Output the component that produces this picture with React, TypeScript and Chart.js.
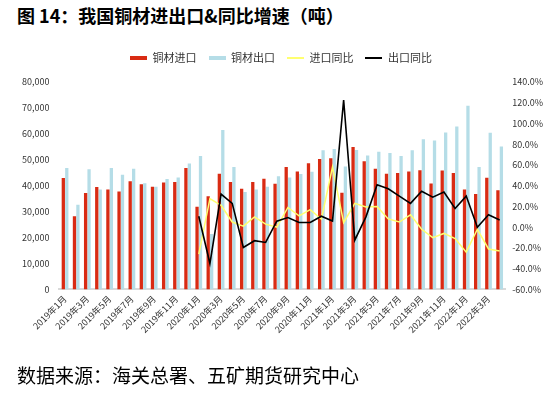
import React, { useEffect, useRef } from "react";
import { Chart, registerables } from "chart.js";

Chart.register(...registerables);

const months: string[] = [
  "2019年1月","2019年2月","2019年3月","2019年4月","2019年5月","2019年6月","2019年7月","2019年8月","2019年9月","2019年10月","2019年11月","2019年12月",
  "2020年1月","2020年2月","2020年3月","2020年4月","2020年5月","2020年6月","2020年7月","2020年8月","2020年9月","2020年10月","2020年11月","2020年12月",
  "2021年1月","2021年2月","2021年3月","2021年4月","2021年5月","2021年6月","2021年7月","2021年8月","2021年9月","2021年10月","2021年11月","2021年12月",
  "2022年1月","2022年2月","2022年3月","2022年4月",
];

const copperImports: number[] = [
  43000, 28200, 37200, 39500, 38500, 37800, 41700, 40600, 39600, 41200, 41400, 46800,
  31900, 35900, 44600, 41400, 38800, 41400, 42700, 40800, 47200, 45500, 48700, 50300,
  50600, 37300, 54900, 49400, 46500, 44600, 44900, 45500, 46000, 40900, 45900, 44900,
  38500, 36800, 43100, 38300,
];

const copperExports: number[] = [
  46800, 32700, 46400, 38500, 46800, 44200, 46500, 41000, 39600, 42600, 43200, 48600,
  51500, 21400, 61500, 47200, 37600, 38500, 39600, 43700, 43200, 44500, 45400, 53700,
  54200, 47400, 53800, 51700, 53100, 52600, 51500, 53700, 57900, 57400, 60500, 62800,
  70800, 47200, 60400, 55100,
];

const importYoY: (number | null)[] = [
  null, null, null, null, null, null, null, null, null, null, null, null,
  -26, 27.5, 21, 5, 1, 10, 3, 0, 19, 11, 17, 7.7,
  58, 4.5, 23, 19.5, 20, 8, 5, 12, -2, -10, -6, -11,
  -24, -2, -21, -23,
];

const exportYoY: (number | null)[] = [
  null, null, null, null, null, null, null, null, null, null, null, null,
  10.6, -35, 32, 23, -19.5, -13, -14.7, 5.8, 9.3, 4.5, 4.5, 10.6,
  6, 122.6, -12.5, 10, 41, 37, 30, 23, 34.6, 29, 34, 18,
  30, 0, 12, 7,
];

const seriesNames: string[] = ["铜材进口", "铜材出口", "进口同比", "出口同比"];
const titleText = "图 14：我国铜材进出口&同比增速（吨）";
const sourceText = "数据来源：海关总署、五矿期货研究中心";

const RED = "#d92b13";
const BLUE = "#b5dde7";
const YELLOW = "#ffff70";
const BLACK = "#000000";
const FONT = '"Noto Sans CJK SC", "Noto Sans", sans-serif';

function swatch(color: string, w: number, h: number): HTMLCanvasElement {
  const c = document.createElement("canvas");
  c.width = w;
  c.height = h;
  const ctx = c.getContext("2d")!;
  ctx.fillStyle = color;
  ctx.fillRect(0, 0, w, h);
  return c;
}

const legendGap = {
  id: "legendGap",
  beforeLayout(chart: any) {
    const lg = chart.legend;
    if (lg && !lg._gapPatched) {
      const orig = lg.fit;
      lg.fit = function () {
        orig.call(this);
        this.height += 9;
      };
      lg._gapPatched = true;
    }
  },
};

export default function App() {
  const ref = useRef<HTMLCanvasElement | null>(null);

  useEffect(() => {
    document.body.style.margin = "0";
    if (!ref.current) return;
    const swatches = [swatch(RED, 17, 4), swatch(BLUE, 17, 4), swatch(YELLOW, 17, 2), swatch(BLACK, 17, 2)];
    const chart = new Chart(ref.current, {
      type: "bar",
      data: {
        labels: months,
        datasets: [
          {
            type: "bar",
            label: seriesNames[0],
            data: copperImports,
            backgroundColor: RED,
            yAxisID: "y",
            categoryPercentage: 0.62,
            barPercentage: 0.95,
            order: 2,
          },
          {
            type: "bar",
            label: seriesNames[1],
            data: copperExports,
            backgroundColor: BLUE,
            yAxisID: "y",
            categoryPercentage: 0.62,
            barPercentage: 0.95,
            order: 2,
          },
          {
            type: "line",
            label: seriesNames[2],
            data: importYoY,
            borderColor: YELLOW,
            backgroundColor: YELLOW,
            borderWidth: 1.5,
            pointRadius: 0,
            tension: 0,
            yAxisID: "y1",
            order: 1,
          },
          {
            type: "line",
            label: seriesNames[3],
            data: exportYoY,
            borderColor: BLACK,
            backgroundColor: BLACK,
            borderWidth: 1.6,
            pointRadius: 0,
            tension: 0,
            yAxisID: "y1",
            order: 0,
          },
        ],
      } as any,
      options: {
        animation: false,
        responsive: false,
        maintainAspectRatio: false,
        layout: { padding: { left: 12, right: 4, top: 40, bottom: 55 } },
        plugins: {
          tooltip: { enabled: false },
          title: { display: false },
          legend: {
            display: true,
            position: "top",
            labels: {
              usePointStyle: true,
              pointStyleWidth: 17,
              padding: 12,
              color: "#333",
              font: { family: FONT, size: 11 },
              generateLabels: (c: any) =>
                c.data.datasets.map((ds: any, i: number) => ({
                  text: ds.label,
                  pointStyle: swatches[i],
                  datasetIndex: i,
                  hidden: false,
                  lineWidth: 0,
                  strokeStyle: "transparent",
                  fillStyle: "transparent",
                  fontColor: "#333",
                })),
            },
          },
        },
        scales: {
          x: {
            grid: { display: false, drawTicks: false },
            border: { display: true, color: "#d9d9d9", width: 2 },
            ticks: {
              autoSkip: false,
              maxRotation: 45,
              minRotation: 45,
              padding: 4,
              color: "#333",
              font: { family: FONT, size: 9 },
              callback: (_v: any, i: number) => (i % 2 === 0 ? months[i] : ""),
            },
          },
          y: {
            position: "left",
            min: 0,
            max: 80000,
            grid: { display: false, drawTicks: false },
            border: { display: false },
            ticks: {
              stepSize: 10000,
              padding: 10,
              color: "#333",
              font: { family: FONT, size: 9 },
              callback: (v: any) => Number(v).toLocaleString("en-US"),
            },
          },
          y1: {
            position: "right",
            min: -60,
            max: 140,
            grid: { display: false, drawTicks: false },
            border: { display: false },
            ticks: {
              stepSize: 20,
              padding: 7,
              color: "#333",
              font: { family: FONT, size: 9 },
              callback: (v: any) => Number(v).toFixed(1) + "%",
            },
          },
        },
      } as any,
      plugins: [legendGap],
    });
    return () => chart.destroy();
  }, []);

  return (
    <div style={{ position: "relative", width: 554, height: 394, background: "#fff", overflow: "hidden" }}>
      <div
        style={{
          position: "absolute",
          left: 17,
          top: 3,
          fontFamily: FONT,
          fontWeight: "bold",
          fontSize: 18,
          lineHeight: "24px",
          color: "#000",
          whiteSpace: "nowrap",
        }}
      >
        {titleText}
      </div>
      <canvas ref={ref} width={554} height={394} style={{ position: "absolute", left: 0, top: 0 }} />
      <div
        style={{
          position: "absolute",
          left: 17,
          top: 362,
          fontFamily: FONT,
          fontSize: 19,
          lineHeight: "26px",
          color: "#000",
          whiteSpace: "nowrap",
        }}
      >
        {sourceText}
      </div>
    </div>
  );
}
